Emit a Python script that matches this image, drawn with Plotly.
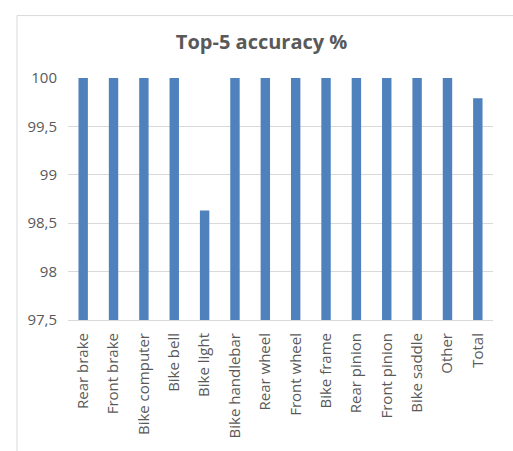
import plotly.graph_objects as go

categories = ["Rear brake", "Front brake", "Bike computer", "Bike bell", "Bike light",
              "Bike handlebar", "Rear wheel", "Front wheel", "Bike frame", "Rear pinion",
              "Front pinion", "Bike saddle", "Other", "Total"]
accuracy = [100, 100, 100, 100, 98.63, 100, 100, 100, 100, 100, 100, 100, 100, 99.79]

FONT = "Open Sans, sans-serif"

fig = go.Figure()
fig.add_trace(go.Bar(x=categories, y=accuracy, marker=dict(color="#4F81BD", line=dict(width=0)),
                     width=0.31))

fig.update_layout(
    width=513, height=451,
    margin=dict(l=68, r=20, t=78, b=131),
    paper_bgcolor="white", plot_bgcolor="white",
    separators=", ",
    showlegend=False,
    font=dict(family=FONT, size=15, color="#595959"),
    title=dict(text="<b>Top-5 accuracy %</b>", x=0.51, xanchor="center", y=0.907, yanchor="middle",
               font=dict(size=20, color="#595959", family=FONT)),
    xaxis=dict(tickangle=-90, showline=True, linecolor="#d9d9d9", linewidth=1,
               ticks="outside", ticklen=6, tickcolor="rgba(0,0,0,0)", tickfont=dict(size=15)),
    yaxis=dict(range=[97.5, 100], dtick=0.5, tick0=97.5, showgrid=True, gridcolor="#d9d9d9",
               gridwidth=1, zeroline=False, ticks="outside", ticklen=7, tickcolor="rgba(0,0,0,0)",
               tickfont=dict(size=15)),
    shapes=[dict(type="rect", xref="paper", yref="paper", x0=-0.120, x1=1.2, y0=-1, y1=1.258,
                 line=dict(color="#d9d9d9", width=1), fillcolor="rgba(0,0,0,0)", layer="below")],
)

fig.write_html("out.html")
